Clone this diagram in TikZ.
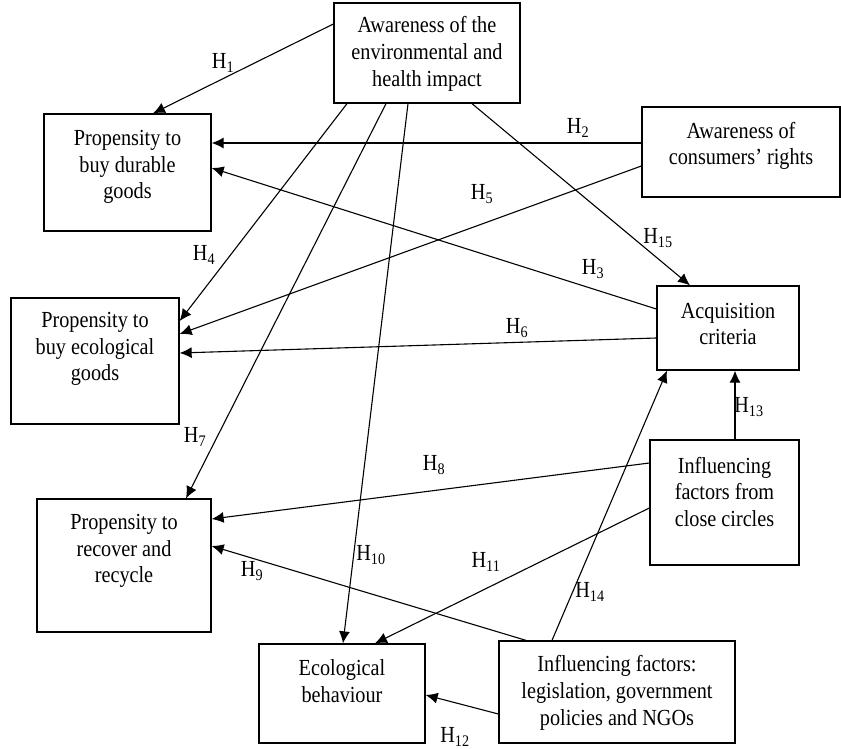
\documentclass[tikz,border=0pt]{standalone}
\usepackage{fontspec}
\setmainfont{Liberation Serif}[FakeStretch=0.88]
\usetikzlibrary{arrows.meta}
\begin{document}
\begin{tikzpicture}[x=1pt,y=-1pt,
  box/.style={draw, line width=1.3pt, inner sep=0pt},
  txt/.style={align=center, font=\fontsize{23}{26.7}\selectfont, inner sep=0pt},
  hlab/.style={font=\fontsize{23}{26}\selectfont, inner sep=0pt},
  arr/.style={line width=1.1pt, -{Latex[length=12pt,width=11pt]}}]
\useasboundingbox (0,0) rectangle (841,749);
\fill[white] (0,0) rectangle (841,749);
% boxes
\node[box, minimum width=186pt, minimum height=100pt] (A) at (427,53) {};
\node[box, minimum width=167pt, minimum height=117pt] (D) at (127.5,172.5) {};
\node[box, minimum width=198pt, minimum height=90pt] (C) at (741,152) {};
\node[box, minimum width=168pt, minimum height=126pt] (E) at (95,361) {};
\node[box, minimum width=142pt, minimum height=84pt] (Q) at (728,328) {};
\node[box, minimum width=149pt, minimum height=125pt] (F) at (724.5,502.5) {};
\node[box, minimum width=174pt, minimum height=133pt] (R) at (124,565.5) {};
\node[box, minimum width=166pt, minimum height=99pt] (B) at (342,693.5) {};
\node[box, minimum width=236pt, minimum height=102pt] (L) at (617,692) {};
% texts
\node[txt] (tA) at (427,54) {Awareness of the\\environmental and\\health impact};
\node[txt] (tD) at (127.5,167) {Propensity to\\buy durable\\goods};
\node[txt] (tC) at (741,146) {Awareness of\\consumers' rights};
\node[txt] (tE) at (95,349) {Propensity to\\buy ecological\\goods};
\node[txt] (tQ) at (728,324) {Acquisition\\criteria};
\node[txt] (tF) at (724.5,492) {Influencing\\factors from\\close circles};
\node[txt] (tR) at (124,551) {Propensity to\\recover and\\recycle};
\node[txt] (tB) at (342,681) {Ecological\\behaviour};
\node[txt] (tL) at (617,693) {Influencing factors:\\legislation, government\\policies and NGOs};
% arrows
\draw[arr] (A.west |- 0,24) -- (D.north -| 153,0);
\draw[arr] (C.west |- 0,143) -- (D.east |- 0,143);
\draw[arr] (Q.west |- 0,309) -- (D.east |- 0,168);
\draw[arr] (A.south -| 347,0) -- (E.east |- 0,321);
\draw[arr] (C.west |- 0,166) -- (E.east |- 0,334);
\draw[arr] (Q.west |- 0,338) -- (E.east |- 0,353);
\draw[arr] (A.south -| 386,0) -- (R.north -| 186,0);
\draw[arr] (A.south -| 408,0) -- (B.north -| 343,0);
\draw[arr] (A.south -| 472,0) -- (Q.north -| 690,0);
\draw[arr] (F.west |- 0,463) -- (R.east |- 0,519);
\draw[arr] (L.north -| 526,0) -- (R.east |- 0,546);
\draw[arr] (F.west |- 0,508) -- (B.north -| 375,0);
\draw[arr] (L.west |- 0,714) -- (B.east |- 0,695);
\draw[arr] (F.north -| 735,0) -- (Q.south -| 735,0);
\draw[arr] (L.north -| 552,0) -- (Q.south -| 667,0);
% labels
\node[hlab] (h1) at (223,63) {H\textsubscript{1}};
\node[hlab] (h2) at (578,128) {H\textsubscript{2}};
\node[hlab] (h3) at (593,269) {H\textsubscript{3}};
\node[hlab] (h4) at (204,255) {H\textsubscript{4}};
\node[hlab] (h5) at (482,194) {H\textsubscript{5}};
\node[hlab] (h6) at (517,328) {H\textsubscript{6}};
\node[hlab] (h7) at (195,437) {H\textsubscript{7}};
\node[hlab] (h8) at (434,465) {H\textsubscript{8}};
\node[hlab] (h9) at (252,571) {H\textsubscript{9}};
\node[hlab] (h10) at (371,555) {H\textsubscript{10}};
\node[hlab] (h11) at (486,562) {H\textsubscript{11}};
\node[hlab] (h12) at (455,737) {H\textsubscript{12}};
\node[hlab] (h13) at (749,407) {H\textsubscript{13}};
\node[hlab] (h14) at (590,592) {H\textsubscript{14}};
\node[hlab] (h15) at (658,238) {H\textsubscript{15}};
\end{tikzpicture}
\end{document}
